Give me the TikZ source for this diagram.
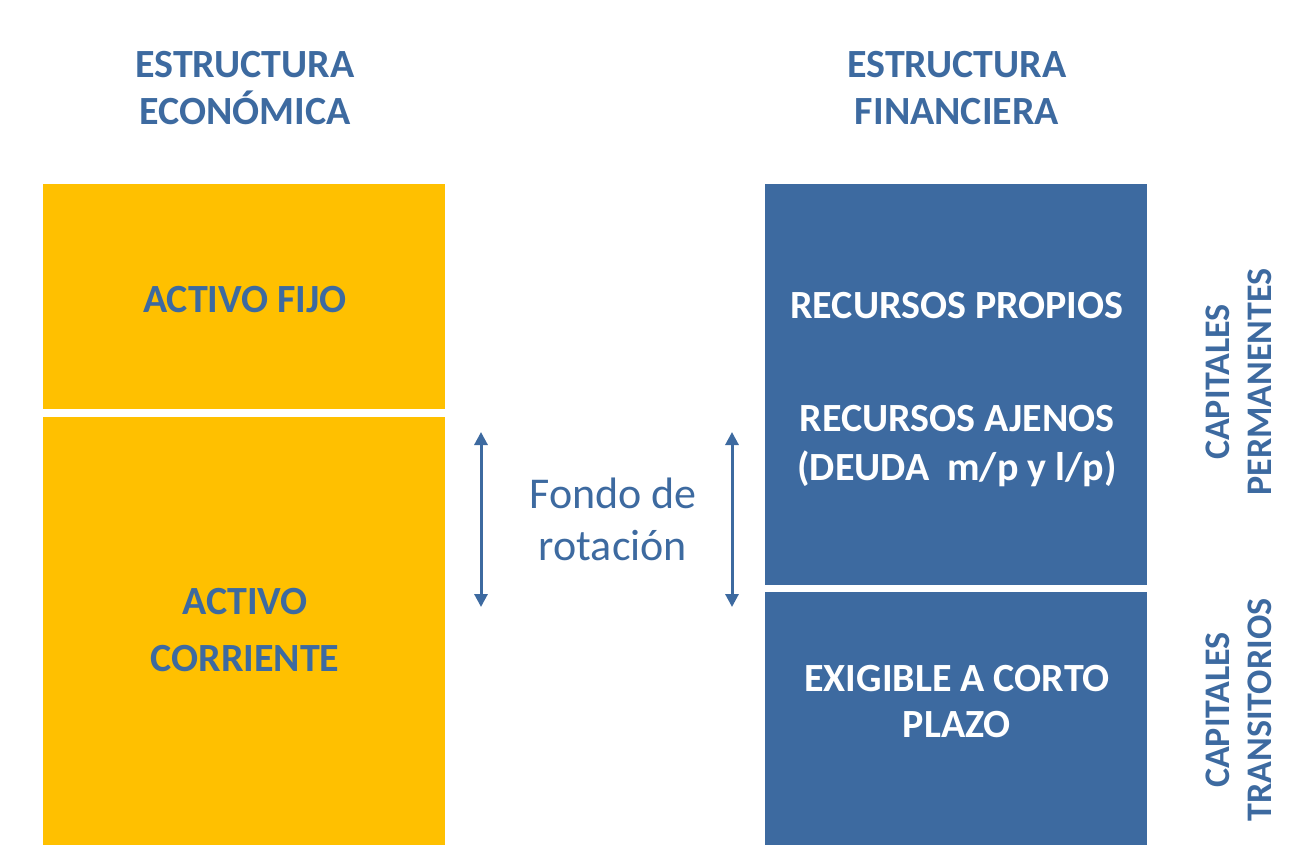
\documentclass[tikz,border=0pt]{standalone}
\usepackage{fontspec}
\setmainfont{Carlito}
\usetikzlibrary{arrows.meta}
\definecolor{gold}{RGB}{255,192,0}
\definecolor{steel}{RGB}{61,106,160}
\begin{document}
\begin{tikzpicture}[x=1pt,y=-1pt,
  block/.style={draw=none,inner sep=0pt,outer sep=0pt,anchor=north west},
  ybox/.style={block,fill=gold},
  bbox/.style={block,fill=steel},
  title/.style={text=steel,font=\bfseries\fontsize{40}{47}\selectfont,align=center,inner sep=0pt},
  intext/.style={font=\bfseries\fontsize{40}{47}\selectfont,align=center,inner sep=0pt},
  side/.style={text=steel,font=\bfseries\fontsize{36}{42}\selectfont,align=center,inner sep=0pt,rotate=90},
  dbl/.style={{Triangle[width=13pt,length=13pt]}-{Triangle[width=13pt,length=13pt]},line width=3pt,draw=steel}]
\useasboundingbox (0,0) rectangle (1299,859);
% titles
\node[title] (t1) at (245,88) {ESTRUCTURA\\ECONÓMICA};
\node[title] (t2) at (957,88) {ESTRUCTURA\\FINANCIERA};
% boxes
\node[ybox,minimum width=402pt,minimum height=225pt] (af) at (43,184) {};
\node[ybox,minimum width=402pt,minimum height=428pt] (ac) at (43,417) {};
\node[bbox,minimum width=382pt,minimum height=401pt] (rp) at (765,184) {};
\node[bbox,minimum width=382pt,minimum height=253pt] (ex) at (765,592) {};
% box texts
\node[intext,text=steel] (afl) at (245,300) {ACTIVO FIJO};
\node[intext,text=steel,font=\bfseries\fontsize{40}{57}\selectfont] (acl) at (245,630) {ACTIVO\\CORRIENTE};
\node[intext,text=white] (rpl) at (957,306) {RECURSOS PROPIOS};
\node[intext,text=white,font=\bfseries\fontsize{40}{49}\selectfont] (ral) at (957,446) {RECURSOS AJENOS\\(DEUDA\ \ m/p y l/p)};
\node[intext,text=white,font=\bfseries\fontsize{40}{46}\selectfont] (exl) at (957,702) {EXIGIBLE A CORTO\\PLAZO};
% middle
\node[text=steel,font=\fontsize{44}{52}\selectfont,align=center,inner sep=0pt] (fr) at (613,519) {Fondo de\\rotación};
\coordinate (a1t) at (481,432); \coordinate (a1b) at (481,607);
\coordinate (a2t) at (732,432); \coordinate (a2b) at (732,607);
\draw[dbl] (a1t) -- (a1b);
\draw[dbl] (a2t) -- (a2b);
% side labels
\node[side] (cp) at (1239,382) {CAPITALES\\PERMANENTES};
\node[side] (ct) at (1239,710) {CAPITALES\\TRANSITORIOS};
\end{tikzpicture}
\end{document}
